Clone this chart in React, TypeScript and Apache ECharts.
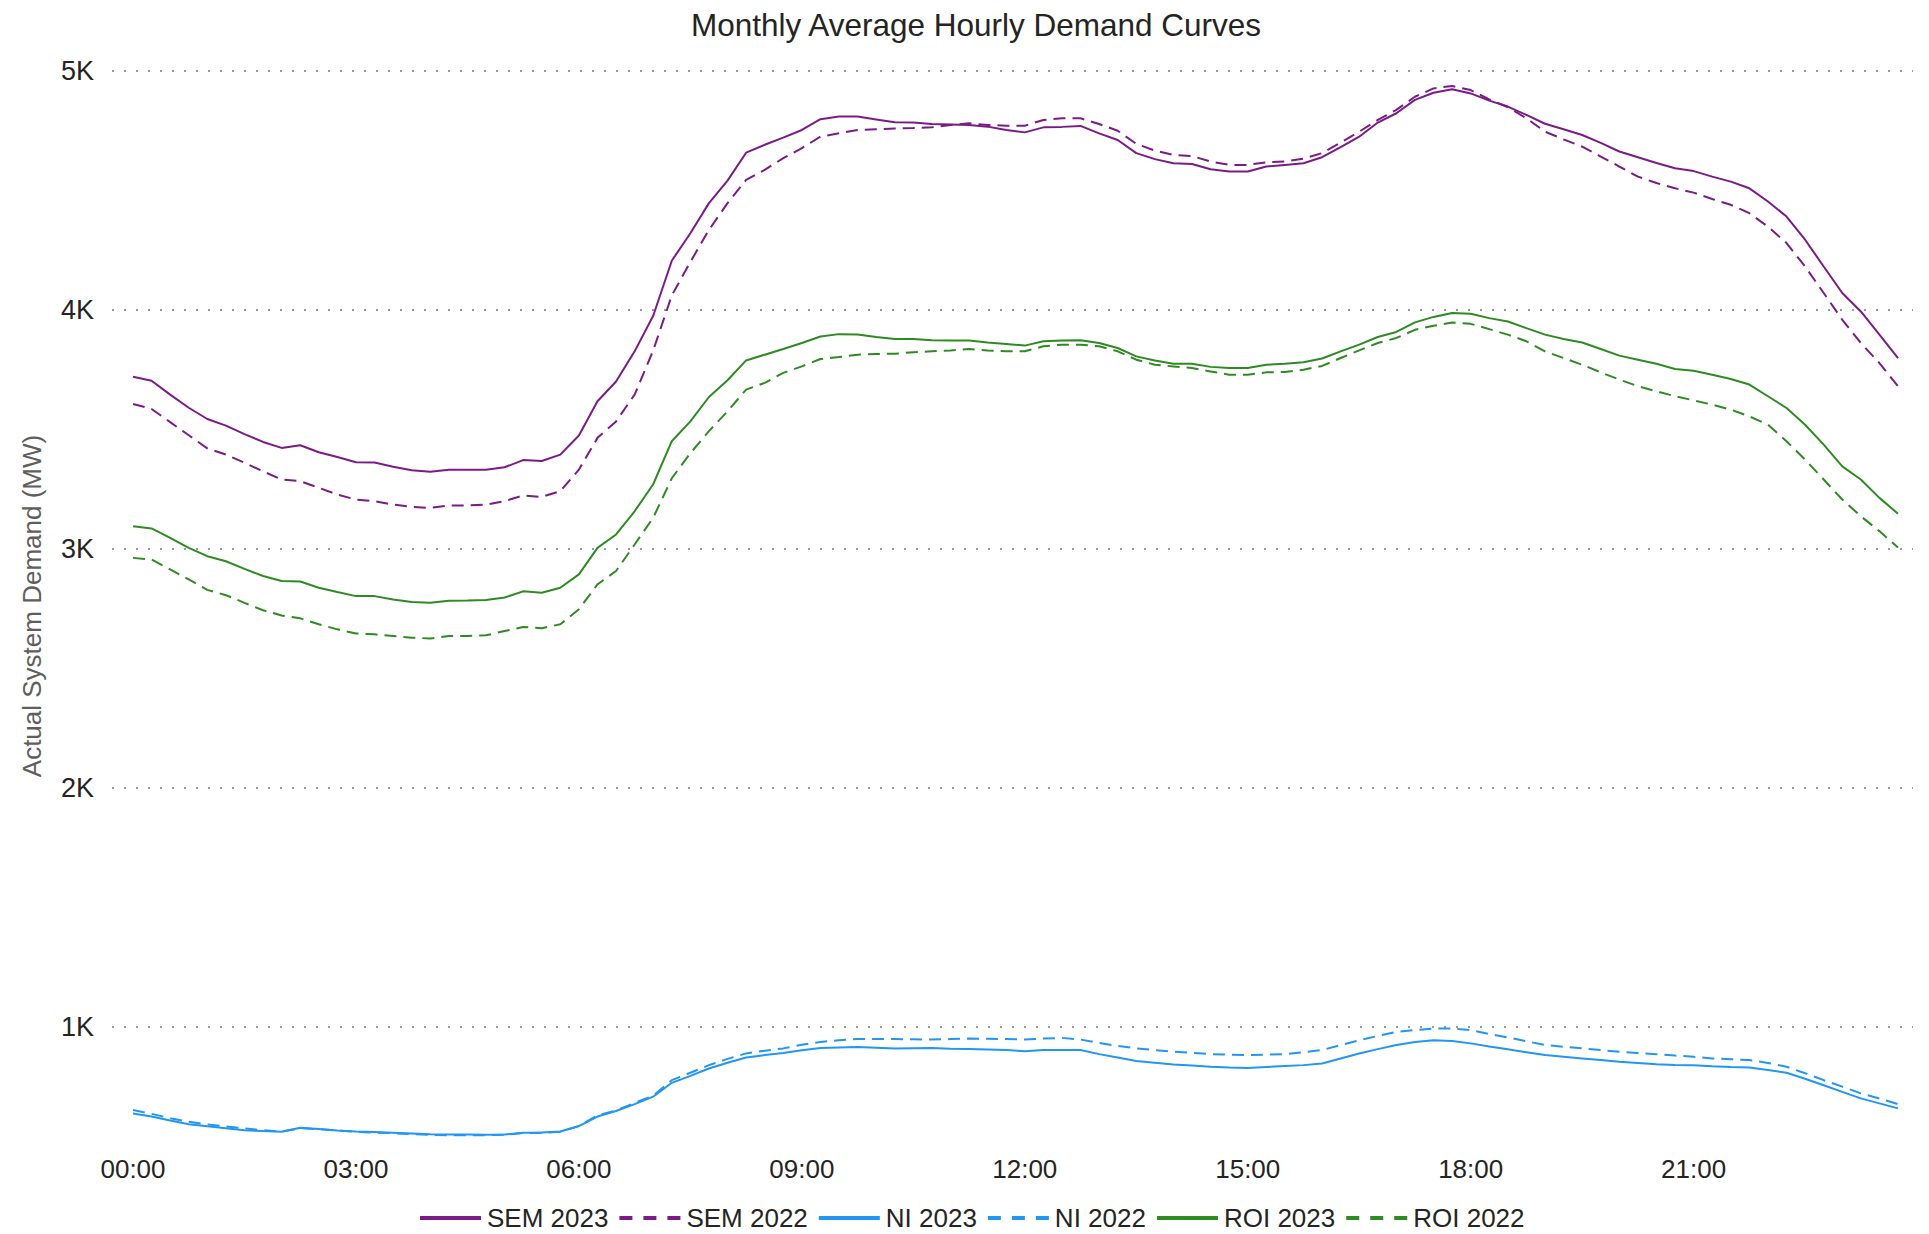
import React, { useEffect, useRef } from "react";
import * as echarts from "echarts";

const times: string[] = [];
for (let h = 0; h < 24; h++) {
  for (let m = 0; m < 60; m += 15) {
    times.push(String(h).padStart(2, "0") + ":" + String(m).padStart(2, "0"));
  }
}

const sem2023 = [3720, 3703, 3645, 3590, 3543, 3515, 3480, 3447, 3422, 3433, 3404, 3384, 3362, 3361, 3343, 3329, 3322, 3331, 3331, 3331, 3341, 3371, 3367, 3394, 3474, 3617, 3700, 3826, 3975, 4205, 4320, 4446, 4540, 4657, 4690, 4720, 4752, 4797, 4808, 4808, 4796, 4784, 4783, 4777, 4775, 4773, 4766, 4752, 4742, 4763, 4765, 4769, 4738, 4710, 4655, 4630, 4613, 4610, 4588, 4578, 4578, 4599, 4606, 4613, 4638, 4680, 4724, 4783, 4822, 4878, 4908, 4922, 4905, 4875, 4850, 4815, 4778, 4755, 4731, 4698, 4662, 4638, 4614, 4592, 4580, 4557, 4536, 4508, 4453, 4390, 4293, 4181, 4070, 3993, 3896, 3798];
const sem2022 = [3606, 3585, 3530, 3475, 3420, 3394, 3360, 3324, 3290, 3283, 3255, 3227, 3206, 3199, 3185, 3175, 3171, 3181, 3181, 3185, 3199, 3223, 3217, 3241, 3331, 3464, 3533, 3645, 3830, 4060, 4200, 4334, 4446, 4543, 4585, 4634, 4676, 4724, 4738, 4752, 4755, 4758, 4760, 4763, 4773, 4780, 4773, 4770, 4770, 4794, 4801, 4801, 4777, 4749, 4694, 4666, 4648, 4643, 4620, 4606, 4606, 4617, 4620, 4632, 4655, 4699, 4745, 4794, 4836, 4891, 4926, 4936, 4919, 4880, 4847, 4801, 4745, 4713, 4682, 4641, 4599, 4557, 4530, 4508, 4490, 4463, 4439, 4404, 4348, 4279, 4181, 4070, 3958, 3861, 3777, 3680];
const ni2023 = [638, 625, 608, 593, 584, 576, 568, 564, 561, 578, 573, 567, 562, 560, 557, 554, 551, 550, 550, 549, 550, 557, 558, 562, 585, 625, 648, 677, 708, 766, 795, 826, 850, 872, 882, 891, 902, 912, 914, 916, 913, 910, 911, 912, 909, 907, 905, 903, 898, 903, 903, 903, 886, 872, 857, 850, 843, 838, 833, 830, 828, 832, 836, 840, 847, 868, 889, 907, 924, 937, 944, 941, 931, 918, 906, 894, 882, 875, 868, 861, 854, 849, 844, 841, 839, 835, 832, 830, 820, 808, 783, 756, 728, 701, 680, 659];
const ni2022 = [652, 636, 618, 603, 592, 583, 575, 568, 562, 576, 572, 566, 561, 558, 555, 551, 548, 547, 547, 547, 549, 556, 557, 561, 585, 630, 650, 682, 712, 777, 808, 840, 866, 889, 900, 910, 925, 937, 944, 949, 949, 949, 948, 947, 949, 951, 950, 949, 947, 951, 954, 947, 933, 920, 910, 903, 896, 891, 886, 884, 882, 884, 886, 894, 903, 924, 944, 962, 979, 987, 993, 993, 986, 970, 956, 940, 924, 917, 910, 903, 896, 891, 886, 880, 875, 868, 865, 861, 849, 833, 806, 777, 750, 722, 700, 677];
const roi2023 = [3094, 3085, 3046, 3004, 2969, 2948, 2916, 2886, 2865, 2863, 2837, 2819, 2802, 2802, 2788, 2777, 2774, 2783, 2784, 2786, 2796, 2822, 2816, 2837, 2893, 3004, 3060, 3157, 3270, 3450, 3533, 3635, 3705, 3788, 3812, 3836, 3861, 3888, 3898, 3896, 3886, 3878, 3878, 3872, 3871, 3871, 3863, 3857, 3850, 3868, 3871, 3872, 3861, 3840, 3805, 3788, 3774, 3774, 3761, 3756, 3756, 3770, 3774, 3780, 3796, 3826, 3854, 3886, 3907, 3947, 3970, 3986, 3983, 3965, 3951, 3923, 3896, 3878, 3863, 3836, 3808, 3791, 3774, 3752, 3745, 3728, 3710, 3687, 3638, 3589, 3519, 3436, 3345, 3290, 3213, 3147];
const roi2022 = [2962, 2955, 2914, 2872, 2828, 2806, 2774, 2743, 2721, 2709, 2684, 2663, 2646, 2642, 2635, 2628, 2625, 2635, 2635, 2638, 2656, 2673, 2668, 2684, 2747, 2851, 2907, 3018, 3130, 3295, 3400, 3492, 3575, 3666, 3694, 3736, 3763, 3794, 3802, 3812, 3815, 3816, 3822, 3826, 3830, 3836, 3830, 3826, 3826, 3847, 3854, 3854, 3847, 3826, 3791, 3770, 3763, 3756, 3742, 3728, 3728, 3738, 3740, 3749, 3765, 3798, 3830, 3861, 3882, 3916, 3933, 3947, 3941, 3919, 3896, 3868, 3826, 3798, 3770, 3738, 3708, 3680, 3659, 3638, 3621, 3603, 3582, 3554, 3519, 3450, 3373, 3290, 3206, 3136, 3074, 3005];

const yTicks = [1000, 2000, 3000, 4000, 5000];

const PURPLE = "#7B1B88";
const BLUE = "#2196F3";
const GREEN = "#2E8B22";
const FONT = "'Liberation Sans', Arial, sans-serif";
const DASH = [12, 7];

const seriesDefs = [
  { name: "SEM 2023", data: sem2023, color: PURPLE, dashed: false },
  { name: "SEM 2022", data: sem2022, color: PURPLE, dashed: true },
  { name: "NI 2023", data: ni2023, color: BLUE, dashed: false },
  { name: "NI 2022", data: ni2022, color: BLUE, dashed: true },
  { name: "ROI 2023", data: roi2023, color: GREEN, dashed: false },
  { name: "ROI 2022", data: roi2022, color: GREEN, dashed: true },
];

export default function App() {
  const ref = useRef<HTMLDivElement>(null);
  useEffect(() => {
    document.body.style.margin = "0";
    document.body.style.overflow = "hidden";
    const chart = echarts.init(ref.current!, null, { renderer: "svg" });
    chart.setOption({
      animation: false,
      backgroundColor: "#ffffff",
      textStyle: { fontFamily: FONT },
      graphic: [
        {
          type: "text",
          x: 976,
          y: 25,
          style: {
            text: "Monthly Average Hourly Demand Curves",
            fontSize: 31.5,
            fontFamily: FONT,
            fill: "#252423",
            textAlign: "center",
            textVerticalAlign: "middle",
          },
        },
        {
          type: "text",
          x: 32,
          y: 606,
          rotation: Math.PI / 2,
          style: {
            text: "Actual System Demand (MW)",
            fontSize: 26,
            fontFamily: FONT,
            fill: "#605E5C",
            textAlign: "center",
            textVerticalAlign: "middle",
          },
        },
      ],
      legend: {
        left: 413,
        top: 1200,
        itemWidth: 61,
        itemHeight: 14,
        itemGap: 9,
        itemStyle: { opacity: 0 },
        textStyle: { fontSize: 26, color: "#252423", fontFamily: FONT, padding: [0, 0, 0, 1] },
        data: seriesDefs.map((s) => ({
          name: s.name,
          itemStyle: { opacity: 0 },
          lineStyle: { width: 4, type: s.dashed ? [13, 11] : "solid", color: s.color },
        })),
      },
      grid: [
        { left: 133, right: 31, top: 70.7, bottom: 1234 - 1146.4 },
        { left: 112, right: 16, top: 70.7, bottom: 1234 - 1026.7 },
      ],
      xAxis: [
        {
          type: "category",
          gridIndex: 0,
          data: times,
          boundaryGap: false,
          axisLine: { show: false },
          axisTick: { show: false },
          splitLine: { show: false },
          axisLabel: { interval: 11, fontSize: 26, color: "#252423", margin: 10, fontFamily: FONT },
        },
        { type: "value", gridIndex: 1, show: false, min: 0, max: 1 },
      ],
      yAxis: [
        { type: "value", gridIndex: 0, min: 500, max: 5000, show: false },
        {
          type: "value",
          gridIndex: 1,
          min: yTicks[0],
          max: yTicks[yTicks.length - 1],
          interval: 1000,
          axisLine: { show: false },
          axisTick: { show: false },
          axisLabel: {
            fontSize: 27,
            color: "#252423",
            margin: 18,
            fontFamily: FONT,
            formatter: (v: number) => v / 1000 + "K",
          },
          splitLine: { show: true, lineStyle: { color: "#9a9a9a", width: 2, type: [2, 10] } },
        },
      ],
      series: seriesDefs.map((s) => ({
        name: s.name,
        type: "line",
        xAxisIndex: 0,
        yAxisIndex: 0,
        data: s.data,
        symbol: "none",
        showSymbol: false,
        color: s.color,
        lineStyle: { color: s.color, width: 2, type: s.dashed ? DASH : "solid" },
      })),
    });
    return () => chart.dispose();
  }, []);
  return <div ref={ref} style={{ position: "absolute", left: 0, top: 0, width: 1929, height: 1234 }} />;
}
